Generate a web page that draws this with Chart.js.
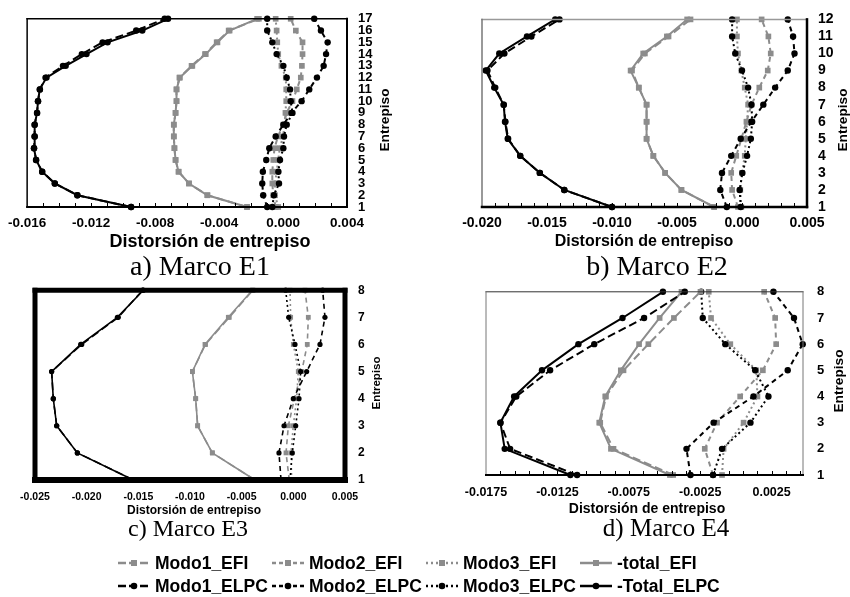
<!DOCTYPE html>
<html>
<head>
<meta charset="utf-8">
<script src="https://cdn.jsdelivr.net/npm/chart.js@4.4.1/dist/chart.umd.min.js"></script>
<style>
  body { margin:0; background:#fff; width:850px; height:597px; position:relative; overflow:hidden;
         font-family:"Liberation Sans", Arial, sans-serif; }
  canvas { position:absolute; }
  .t { position:absolute; white-space:nowrap; transform:translate(-50%,-50%); font-weight:bold; color:#000; }
  .yt { transform:translate(-50%,-50%) rotate(-90deg); }
  .cap { font-family:"Liberation Serif","Times New Roman",serif; font-weight:normal; }
  .leg { position:absolute; font-weight:bold; font-size:17.5px; white-space:nowrap; transform:translateY(-50%); }
  svg { position:absolute; overflow:visible; }
</style>
</head>
<body>
<canvas id="chartE1" width="380" height="232" style="left:0px;top:0px"></canvas>
<canvas id="chartE2" width="400" height="232" style="left:440px;top:0px"></canvas>
<canvas id="chartE3" width="400" height="235" style="left:0px;top:270px"></canvas>
<canvas id="chartE4" width="400" height="235" style="left:440px;top:270px"></canvas>

<div class="t" style="left:210px;top:241px;font-size:18px">Distorsión de entrepiso</div>
<div class="t" style="left:644px;top:241px;font-size:16px">Distorsión de entrepiso</div>
<div class="t" style="left:194px;top:510px;font-size:12px">Distorsión de entrepiso</div>
<div class="t" style="left:647px;top:508px;font-size:14px">Distorsión de entrepiso</div>

<div class="t yt" style="left:384px;top:120px;font-size:13.7px">Entrepiso</div>
<div class="t yt" style="left:842px;top:120px;font-size:13.7px">Entrepiso</div>
<div class="t yt" style="left:376px;top:383px;font-size:11.5px">Entrepiso</div>
<div class="t yt" style="left:838px;top:381px;font-size:13.7px">Entrepiso</div>

<div class="t cap" style="left:200px;top:266px;font-size:28px">a) Marco E1</div>
<div class="t cap" style="left:657px;top:266px;font-size:28px">b) Marco E2</div>
<div class="t cap" style="left:188px;top:528px;font-size:24px">c) Marco E3</div>
<div class="t cap" style="left:666px;top:528px;font-size:25px">d) Marco E4</div>

<div id="legend"></div>

<script>
// ---- data: story drift per floor (floor 1 at index 0) ----
const floorsE1 = [1,2,3,4,5,6,7,8,9,10,11,12,13,14,15,16,17];
const E1_Total_ELPC = [-0.0095,-0.01286,-0.01427,-0.01506,-0.01544,-0.01557,-0.01553,-0.01553,-0.01538,-0.01532,-0.01521,-0.01479,-0.01359,-0.01229,-0.01097,-0.0088,-0.00719];
const E1_Modo1_ELPC = [-0.0095,-0.01286,-0.01427,-0.01506,-0.01544,-0.01557,-0.01553,-0.01553,-0.01538,-0.01532,-0.0152,-0.01485,-0.01376,-0.01258,-0.01128,-0.00918,-0.0074];
const E1_total_EFI = [-0.00225,-0.00473,-0.00588,-0.00653,-0.00672,-0.00679,-0.00683,-0.00683,-0.00672,-0.00666,-0.00666,-0.00645,-0.00567,-0.00483,-0.0041,-0.00334,-0.00162];
const E1_Modo1_EFI = [-0.00225,-0.00473,-0.00588,-0.00653,-0.00672,-0.00679,-0.00683,-0.00683,-0.00672,-0.00666,-0.00666,-0.00648,-0.00572,-0.00488,-0.00415,-0.0034,-0.00151];
const E1_Modo2_ELPC = [-0.00099,-0.00124,-0.0013,-0.00126,-0.00105,-0.00086,-0.00046,0.00002,0.00053,0.00116,0.00164,0.00212,0.00254,0.00269,0.00279,0.00237,0.00195];
const E1_Modo3_ELPC = [-0.00067,-0.00057,-0.00025,-0.00029,-0.00019,0.00002,0.00006,0.00023,0.00059,0.00048,0.00044,0.00023,0.00002,-0.0004,-0.00067,-0.00099,-0.00099];
const E1_Modo2_EFI = [-0.00046,-0.00061,-0.00067,-0.00067,-0.00061,-0.00053,-0.00032,0.00002,0.00023,0.00059,0.00086,0.00111,0.00118,0.00122,0.00122,0.0008,0.00048];
const E1_Modo3_EFI = [-0.0003,-0.0005,-0.0005,-0.0004,-0.0003,-0.0002,0.0,0.0001,0.00015,0.0002,0.0002,0.00017,-0.0001,-0.0003,-0.00036,-0.0004,-0.00046];

const floorsE2 = [1,2,3,4,5,6,7,8,9,10,11,12];
const E2_Total_ELPC = [-0.01,-0.01367,-0.01555,-0.01706,-0.01802,-0.01823,-0.01833,-0.01906,-0.01971,-0.01867,-0.01654,-0.01437];
const E2_Modo1_ELPC = [-0.01,-0.01367,-0.01555,-0.01706,-0.01799,-0.0182,-0.01833,-0.01898,-0.01958,-0.01828,-0.0162,-0.01404];
const E2_total_EFI = [-0.00214,-0.00466,-0.00591,-0.00682,-0.00734,-0.00734,-0.00734,-0.00794,-0.00857,-0.0076,-0.00578,-0.00422];
const E2_Modo1_EFI = [-0.00214,-0.00466,-0.00591,-0.00682,-0.00734,-0.00734,-0.00734,-0.00794,-0.00846,-0.00747,-0.00565,-0.00396];
const E2_Modo2_ELPC = [-0.00117,-0.00167,-0.00154,-0.00083,-0.0001,0.00073,0.00164,0.00255,0.00352,0.00404,0.00393,0.00352];
const E2_Modo3_ELPC = [-0.0001,-0.00018,0.00003,0.00039,0.00068,0.00078,0.00073,0.00047,0.0,-0.00052,-0.00076,-0.00076];
const E2_Modo2_EFI = [-0.00031,-0.00076,-0.00083,-0.00044,-0.00005,0.00034,0.00073,0.00133,0.00198,0.00221,0.00203,0.00151];
const E2_Modo3_EFI = [-0.00005,-0.00013,0.0,0.00021,0.00029,0.00039,0.00047,0.00021,-0.00005,-0.00031,-0.00039,-0.00039];

const floorsE3 = [1,2,3,4,5,6,7,8];
const E3_Total_ELPC = [-0.01548,-0.0209,-0.0229,-0.02323,-0.02339,-0.02058,-0.01703,-0.01452];
const E3_Modo1_ELPC = [-0.01548,-0.0209,-0.0229,-0.02323,-0.02339,-0.02048,-0.01694,-0.01458];
const E3_total_EFI = [-0.00371,-0.00784,-0.00926,-0.00945,-0.00977,-0.00855,-0.00629,-0.00397];
const E3_Modo1_EFI = [-0.00371,-0.00784,-0.00926,-0.00945,-0.00977,-0.0085,-0.0062,-0.0039];
const E3_Modo2_ELPC = [-0.00119,-0.00139,-0.0009,0.0,0.00129,0.00258,0.00306,0.00284];
const E3_Modo3_ELPC = [-0.00032,-0.0001,0.00023,0.00055,0.00071,0.00016,-0.00045,-0.00074];
const E3_Modo2_EFI = [-0.00039,-0.00071,-0.00048,0.0001,0.00081,0.00135,0.00145,0.00113];
const E3_Modo3_EFI = [-0.00016,-0.00023,0.0,0.00032,0.00048,0.0,-0.00026,-0.00032];

const floorsE4 = [1,2,3,4,5,6,7,8];
const E4_Total_ELPC = [-0.01159,-0.01619,-0.01649,-0.01553,-0.01358,-0.01103,-0.00794,-0.00511];
const E4_Modo1_ELPC = [-0.01112,-0.01581,-0.01649,-0.01538,-0.01301,-0.00992,-0.00643,-0.00358];
const E4_total_EFI = [-0.00462,-0.00875,-0.00957,-0.00915,-0.00806,-0.00678,-0.00534,-0.00381];
const E4_Modo1_EFI = [-0.00439,-0.00857,-0.0095,-0.0091,-0.00787,-0.00613,-0.00434,-0.00248];
const E4_Modo2_ELPC = [-0.00318,-0.00346,-0.00156,0.00123,0.00363,0.00468,0.00407,0.00263];
const E4_Modo3_ELPC = [-0.0016,-0.00097,0.00102,0.00228,0.00135,-0.00074,-0.00232,-0.00243];
const E4_Modo2_EFI = [-0.0016,-0.00218,-0.00132,0.0003,0.00189,0.00282,0.00275,0.00198];
const E4_Modo3_EFI = [-0.00097,-0.00086,0.00054,0.00151,0.00143,-0.00039,-0.00174,-0.0019];

// x axis tick labels
const ticksE1 = [-0.016,-0.012,-0.008,-0.004,0,0.004];
const ticksE2 = [-0.02,-0.015,-0.01,-0.005,0,0.005];
const ticksE3 = [-0.025,-0.02,-0.015,-0.01,-0.005,0,0.005];
const ticksE4 = [-0.0175,-0.0125,-0.0075,-0.0025,0.0025];

const legendNames = ['Modo1_EFI','Modo2_EFI','Modo3_EFI','-total_EFI','Modo1_ELPC','Modo2_ELPC','Modo3_ELPC','-Total_ELPC'];

// ---- styles ----
const GRAY = '#8c8c8c';
const DASH1 = [8,4], DASH2 = [5,4], DOT = [2,3];

Chart.defaults.color = '#000';
Chart.defaults.font.family = '"Liberation Sans", Arial, sans-serif';
Chart.defaults.font.weight = 'bold';

function line(label, xs, floors, color, dash, shape, lw, r) {
  return {
    label: label,
    data: xs.map((x, i) => ({x: x, y: floors[i]})),
    showLine: true,
    borderColor: color,
    backgroundColor: color,
    borderWidth: lw,
    borderDash: dash,
    pointStyle: shape,
    pointRadius: r,
    pointBorderWidth: 0,
    pointBackgroundColor: color,
    clip: false
  };
}

// frame + inward minor ticks on the x axis
const framePlugin = {
  id: 'frame',
  afterDraw(chart, args, o) {
    const ctx = chart.ctx, a = chart.chartArea;
    ctx.save();
    ctx.setLineDash([]);
    if (o.minor) {
      const sc = chart.scales.x;
      const n = Math.round((sc.max - sc.min) / o.minor);
      ctx.strokeStyle = '#000';
      ctx.lineWidth = 1;
      for (let i = 1; i < n + 1; i++) {
        const px = Math.round(sc.getPixelForValue(sc.min + i * o.minor)) + 0.5;
        if (px > a.right - 1) break;
        ctx.beginPath();
        ctx.moveTo(px, a.bottom);
        ctx.lineTo(px, a.bottom - 4);
        ctx.stroke();
      }
    }
    const sides = {
      top: [a.left, a.top, a.right, a.top],
      left: [a.left, a.top, a.left, a.bottom],
      right: [a.right, a.top, a.right, a.bottom],
      bottom: [a.left, a.bottom, a.right, a.bottom]
    };
    ctx.lineCap = 'square';
    for (const k of ['top', 'left', 'right', 'bottom']) {
      const s = o[k];
      if (!s) continue;
      const p = sides[k];
      ctx.strokeStyle = s[0];
      ctx.lineWidth = s[1];
      ctx.beginPath();
      ctx.moveTo(p[0], p[1]);
      ctx.lineTo(p[2], p[3]);
      ctx.stroke();
    }
    ctx.restore();
  }
};

function makePanel(id, floors, sets, xTicks, o) {
  return new Chart(document.getElementById(id), {
    type: 'scatter',
    data: {datasets: sets},
    plugins: [framePlugin],
    options: {
      responsive: false,
      animation: false,
      events: [],
      layout: {padding: {left: o.padL, top: o.padT, right: 0, bottom: 0}},
      plugins: {legend: {display: false}, tooltip: {enabled: false}, frame: o.frame},
      scales: {
        x: {
          type: 'linear', position: 'bottom', min: o.xMin, max: o.xMax,
          grid: {display: false, drawTicks: false},
          border: {display: false},
          afterBuildTicks: (s) => { s.ticks = xTicks.map(v => ({value: v})); },
          afterFit: (s) => { s.height = o.xH; },
          ticks: {
            autoSkip: false, maxRotation: 0, padding: o.xPad,
            font: {size: o.xFont, weight: 'bold'},
            callback: (v) => Number(v).toFixed(o.dec)
          }
        },
        y: {
          type: 'linear', position: 'right', min: 1, max: floors[floors.length - 1],
          grid: {display: false, drawTicks: false},
          border: {display: false},
          afterFit: (s) => { s.width = o.yW; },
          ticks: {stepSize: 1, autoSkip: false, padding: o.yPad, font: {size: o.yFont, weight: 'bold'}}
        }
      }
    }
  });
}

function setsFor(f, tE, m1E, tEFI, m1EFI, m2E, m3E, m2EFI, m3EFI, lw, rc, rs) {
  return [
    line('-Total_ELPC', tE, f, '#000', [], 'circle', lw, rc),
    line('Modo1_ELPC', m1E, f, '#000', DASH1, 'circle', lw, rc),
    line('-total_EFI', tEFI, f, GRAY, [], 'rect', lw, rs),
    line('Modo1_EFI', m1EFI, f, GRAY, DASH1, 'rect', lw, rs),
    line('Modo2_ELPC', m2E, f, '#000', DASH2, 'circle', lw, rc),
    line('Modo3_ELPC', m3E, f, '#000', DOT, 'circle', lw, rc),
    line('Modo2_EFI', m2EFI, f, GRAY, DASH2, 'rect', lw, rs),
    line('Modo3_EFI', m3EFI, f, GRAY, DOT, 'rect', lw, rs)
  ];
}

makePanel('chartE1', floorsE1,
  setsFor(floorsE1, E1_Total_ELPC, E1_Modo1_ELPC, E1_total_EFI, E1_Modo1_EFI, E1_Modo2_ELPC, E1_Modo3_ELPC, E1_Modo2_EFI, E1_Modo3_EFI, 2, 3.2, 4),
  ticksE1,
  {padL: 26, padT: 18, xH: 25, yW: 33, xMin: -0.016, xMax: 0.004, dec: 3, xPad: 8, xFont: 13.5, yPad: 11, yFont: 13,
   frame: {minor: 0.001, top: ['#000', 1.5], left: ['#000', 1.5], right: ['#000', 2], bottom: ['#000', 2]}});

makePanel('chartE2', floorsE2,
  setsFor(floorsE2, E2_Total_ELPC, E2_Modo1_ELPC, E2_total_EFI, E2_Modo1_EFI, E2_Modo2_ELPC, E2_Modo3_ELPC, E2_Modo2_EFI, E2_Modo3_EFI, 2, 3.2, 4),
  ticksE2,
  {padL: 42, padT: 18, xH: 25, yW: 33, xMin: -0.02, xMax: 0.005, dec: 3, xPad: 8, xFont: 14, yPad: 11, yFont: 14,
   frame: {minor: 0.001, top: ['#999', 1.5], left: ['#777', 1.5], right: ['#000', 2.5], bottom: ['#000', 2.5]}});

makePanel('chartE3', floorsE3,
  setsFor(floorsE3, E3_Total_ELPC, E3_Modo1_ELPC, E3_total_EFI, E3_Modo1_EFI, E3_Modo2_ELPC, E3_Modo3_ELPC, E3_Modo2_EFI, E3_Modo3_EFI, 1.6, 2.6, 3.4),
  ticksE3,
  {padL: 35, padT: 18, xH: 25, yW: 55, xMin: -0.025, xMax: 0.005, dec: 3, xPad: 11, xFont: 10.5, yPad: 13, yFont: 12,
   frame: {top: ['#000', 5], left: ['#000', 5], right: ['#000', 5], bottom: ['#000', 6]}});

makePanel('chartE4', floorsE4,
  setsFor(floorsE4, E4_Total_ELPC, E4_Modo1_ELPC, E4_total_EFI, E4_Modo1_EFI, E4_Modo2_ELPC, E4_Modo3_ELPC, E4_Modo2_EFI, E4_Modo3_EFI, 2, 3.2, 4),
  ticksE4,
  {padL: 46, padT: 18, xH: 30, yW: 37, xMin: -0.0175, xMax: 0.0047, dec: 4, xPad: 10, xFont: 12.5, yPad: 14, yFont: 13,
   frame: {minor: 0.001, top: ['#333', 1], left: ['#777', 1], right: ['#777', 1], bottom: ['#000', 2]}});

// ---- shared legend (html) ----
const legTextX = [155, 309, 463, 617];
const legRowY = [563, 586];
const legColor = [GRAY, GRAY, GRAY, GRAY, '#000', '#000', '#000', '#000'];
const legDash = ['8,3', '4,3', '2,3', '', '8,3', '4,3', '2,3', ''];
let html = '';
legendNames.forEach((name, i) => {
  const row = Math.floor(i / 4), col = i % 4;
  const x = legTextX[col], y = legRowY[row];
  const c = legColor[i];
  const mark = row === 0
    ? `<rect x="13" y="3" width="6" height="6" fill="${c}"/>`
    : `<circle cx="16" cy="6" r="3.3" fill="${c}"/>`;
  html += `<svg width="32" height="12" style="left:${x - 37}px;top:${y - 6}px">` +
          `<line x1="0" y1="6" x2="32" y2="6" stroke="${c}" stroke-width="2.5" stroke-dasharray="${legDash[i]}"/>${mark}</svg>`;
  html += `<div class="leg" style="left:${x}px;top:${y}px">${name}</div>`;
});
document.getElementById('legend').innerHTML = html;
</script>
</body>
</html>
